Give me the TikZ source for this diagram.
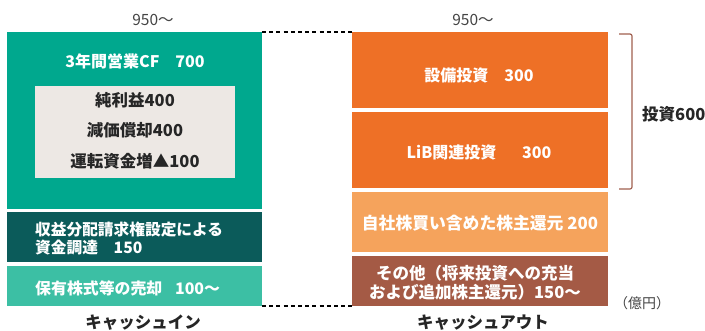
\documentclass[tikz,border=0pt]{standalone}
\usepackage{fontspec}
\setmainfont{Noto Sans CJK JP}
\definecolor{teal1}{HTML}{00A88E}
\definecolor{teal2}{HTML}{0B5B5A}
\definecolor{teal3}{HTML}{3CBFA4}
\definecolor{innerc}{HTML}{EDE8E4}
\definecolor{org1}{HTML}{EE7026}
\definecolor{org2}{HTML}{F5A35C}
\definecolor{brn}{HTML}{A45A45}
\definecolor{brk}{HTML}{A0604F}
\definecolor{gry}{HTML}{444444}
\tikzset{
  blk/.style={inner sep=0pt, outer sep=0pt, minimum width=255pt},
  wtxt/.style={text=white, font=\fontsize{16}{18}\selectfont\bfseries, inner sep=0pt},
  btxt/.style={text=black!85, font=\fontsize{16.5}{18}\selectfont\bfseries, inner sep=0pt},
  gtxt/.style={text=gry, font=\fontsize{15.5}{18}\selectfont, inner sep=0pt},
  dsh/.style={line width=1.4pt, dash pattern=on 4pt off 3.2pt},
}
\begin{document}
\begin{tikzpicture}[x=1pt,y=-1pt]
\useasboundingbox (0,0) rectangle (705,330);
\fill[white] (0,0) rectangle (705,330);
% left column
\node[blk, fill=teal1, minimum height=177pt] (cf) at (134.5,120.5) {};
\node[wtxt] (cft) at (135,61) {3年間営業CF\hspace{1em}700};
\node[blk, fill=innerc, minimum width=200pt, minimum height=92pt] (inb) at (135,132) {};
\node[btxt] (i1) at (135,100) {純利益400};
\node[btxt] (i2) at (135,130) {減価償却400};
\node[btxt] (i3) at (135,161) {運転資金増▲100};
\node[blk, fill=teal2, minimum height=50pt] (dt) at (134.5,237) {};
\node[wtxt, anchor=west, align=left, font=\fontsize{15.7}{18}\selectfont\bfseries] (dtt) at (35,238) {収益分配請求権設定による\\資金調達\hspace{1em}150};
\node[blk, fill=teal3, minimum height=40pt] (lt) at (134.5,286) {};
\node[wtxt, anchor=west, font=\fontsize{15.9}{18}\selectfont\bfseries] (ltt) at (35,288) {保有株式等の売却\hspace{0.8em}100～};
% right column
\node[blk, fill=org1, minimum width=256pt, minimum height=76pt] (o1) at (480,70) {};
\node[wtxt] (o1t) at (479,75) {設備投資\hspace{1em}300};
\node[blk, fill=org1, minimum width=256pt, minimum height=76pt] (o2) at (480,150) {};
\node[wtxt] (o2t) at (479,152) {LiB関連投資\hspace{1.6em}300};
\node[blk, fill=org2, minimum width=256pt, minimum height=60pt] (o3) at (480,222) {};
\node[wtxt, font=\fontsize{16.8}{18}\selectfont\bfseries] (o3t) at (480,223) {自社株買い含めた株主還元 200};
\node[blk, fill=brn, minimum width=256pt, minimum height=50pt] (o4) at (480,281) {};
\node[wtxt, align=center, font=\fontsize{16.5}{19}\selectfont\bfseries] (o4t) at (475,282.5) {その他（将来投資への充当\\および追加株主還元）150～};
% dashed connectors
\draw[dsh] (cf.north east) -- (o1.north west);
\draw[dsh] (lt.south east) -- (o4.south west);
% labels
\node[gtxt] (n1) at (153,20) {950～};
\node[gtxt] (n2) at (473,20) {950～};
\node[btxt] (ci) at (143,323) {キャッシュイン};
\node[btxt] (co) at (483,323) {キャッシュアウト};
% bracket
\coordinate (b1) at (619,34);
\coordinate (b2) at (632,34);
\coordinate (b3) at (632,189);
\coordinate (b4) at (619,189);
\draw[brk, line width=1.2pt, rounded corners=2pt] (b1) -- (b2) -- (b3) -- (b4);
\node[btxt, anchor=west] (inv) at (642,114) {投資600};
\node[gtxt, font=\fontsize{14}{16}\selectfont] (unit) at (642,303) {（億円）};
\end{tikzpicture}
\end{document}
